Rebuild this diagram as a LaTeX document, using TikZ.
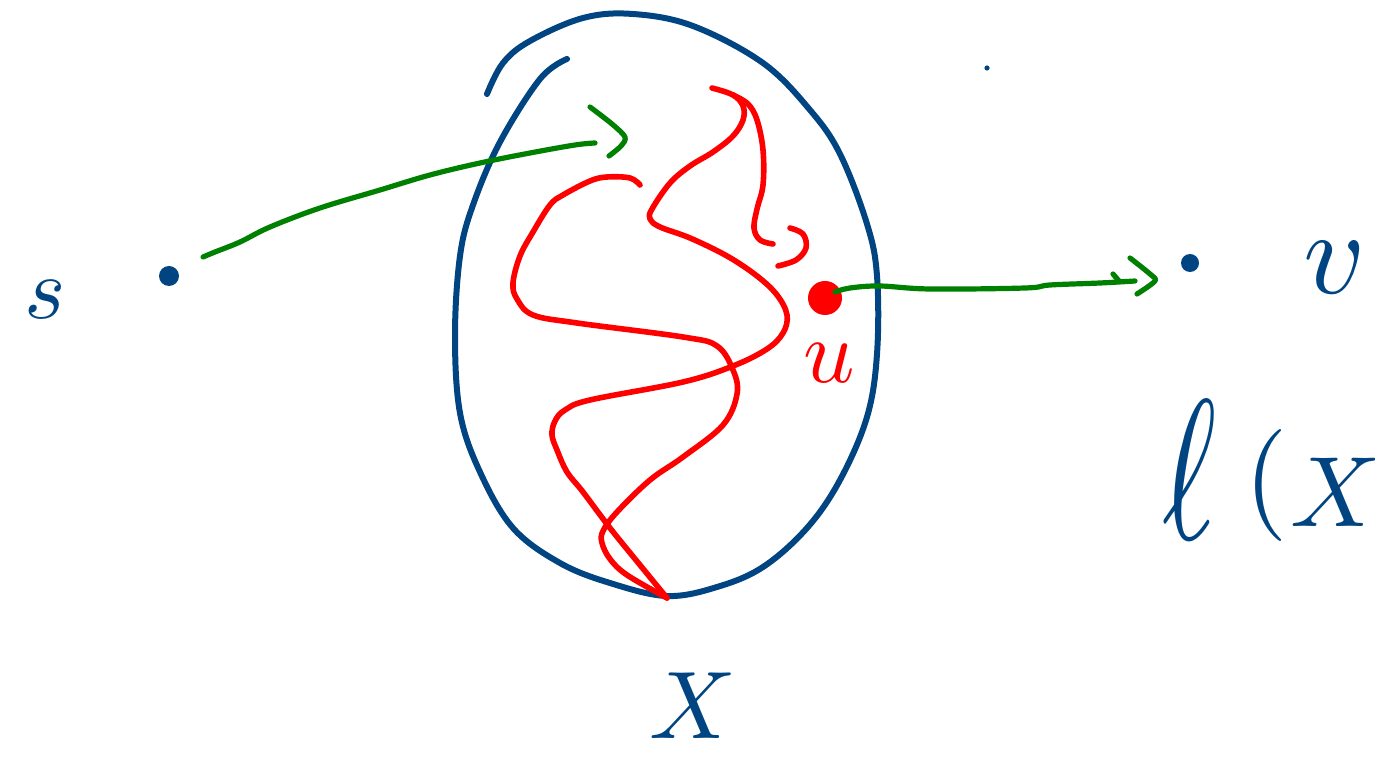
\documentclass[tikz,border=0pt]{standalone}
\usepackage{tikz}
\definecolor{inkblue}{HTML}{004481}
\definecolor{inkgreen}{HTML}{008000}
\definecolor{inkred}{HTML}{FF0000}
\begin{document}
\begin{tikzpicture}[x=0.5pt,y=-0.5pt,
  bluestroke/.style={draw=inkblue,line width=3pt,line cap=round,line join=round},
  redstroke/.style={draw=inkred,line width=2.8pt,line cap=round,line join=round},
  greenstroke/.style={draw=inkgreen,line width=2.6pt,line cap=round,line join=round},
  bluelabel/.style={text=inkblue,inner sep=0pt},
  redlabel/.style={text=inkred,inner sep=0pt},
  dotnode/.style={fill=inkblue,draw=none,inner sep=0pt,minimum size=#1,circle}]
\useasboundingbox (0,0) rectangle (1380,758);
% blue set X
\draw[bluestroke] plot[smooth,tension=0.6] coordinates {(487,94) (503,63) (530,41) (583,18) (633,14) (693,26) (763,63) (810,110) (840,154) (867,224) (877,276) (877,354) (867,417) (840,480) (807,528) (763,567) (717,587) (667,596) (610,583) (560,563) (513,528) (480,472) (460,413) (455,335) (460,256) (473,205) (500,142) (540,79) (567,59)};
% red paths
\draw[redstroke] plot[smooth,tension=0.6] coordinates {(640,185) (630,178) (607,177) (590,181) (563,195) (550,205) (533,232) (520,256) (513,283) (517,299) (533,315) (577,323) (683,337) (717,346) (733,370) (737,394) (723,425) (683,457) (650,480) (617,512) (603,531) (602,543) (610,559) (627,575) (667,598)};
\draw[redstroke] plot[smooth,tension=0.6] coordinates {(667,598) (640,565) (610,528) (583,492) (567,472) (557,450) (552,435) (555,421) (565,410) (590,400) (683,382) (733,366) (767,349) (783,333) (787,315) (777,295) (757,276) (727,256) (690,238) (660,227) (650,219) (652,209) (670,183) (690,166) (713,152) (733,136) (743,120) (743,106) (733,95) (712,88)};
\draw[redstroke] plot[smooth,tension=0.6] coordinates {(733,95) (748,104) (757,120) (763,150) (763,185) (757,209) (754,228) (760,240) (773,244)};
\draw[redstroke] plot[smooth,tension=0.6] coordinates {(790,228) (803,234) (806,248) (796,260) (778,266)};
% dots
\node[dotnode=10pt] (sdot) at (169,276) {};
\node[dotnode=9pt] (vdot) at (1190,263) {};
\node[dotnode=2.6pt] (topdot) at (987,68) {};
\node[circle,fill=inkred,inner sep=0pt,minimum size=17pt] (udot) at (825,298) {};
% green arrows
\coordinate (a1s) at (203,257);
\coordinate (a1e) at (595,143);
\draw[greenstroke] plot[smooth,tension=0.6] coordinates {(a1s) (215,252) (240,242) (270,227) (320,208) (380,190) (430,175) (480,163) (530,153) (575,145) (a1e)};
\draw[greenstroke] plot[smooth,tension=0.5] coordinates {(590,107) (612,124) (625,137) (621,146) (609,156)};
\coordinate (a2s) at (835,292);
\coordinate (a2e) at (1135,281);
\draw[greenstroke] plot[smooth,tension=0.6] coordinates {(a2s) (850,288) (880,286) (930,289) (1025,288) (1050,285) (1100,283) (a2e)};
\draw[greenstroke] (1113,274) -- (1119,281);
\draw[greenstroke] plot[smooth,tension=0.5] coordinates {(1130,258) (1150,274) (1155,281) (1137,294)};
% labels
\node[bluelabel,scale=4.4] (slab) at (45,300) {$s$};
\node[bluelabel,scale=6] (vlab) at (1335,268) {$v$};
\node[redlabel,scale=4.5] (ulab) at (829,363) {$u$};
\node[bluelabel,scale=4.8] (xlab) at (693,706) {$X$};
\node[bluelabel,xscale=6.5,yscale=10] (ell) at (1190,470) {$\ell$};
\node[bluelabel,scale=5.6] (lpar) at (1266,486) {$($};
\node[bluelabel,scale=5] (lx) at (1336,492) {$X$};
\end{tikzpicture}
\end{document}
